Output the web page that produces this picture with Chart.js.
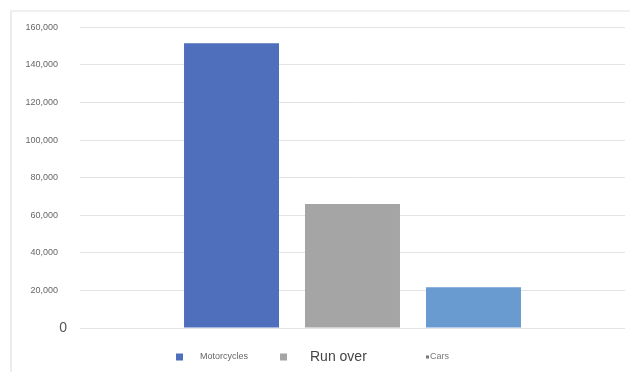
<!DOCTYPE html>
<html>
<head>
<meta charset="utf-8">
<script src="https://cdn.jsdelivr.net/npm/chart.js@4"></script>
<style>
  html, body { margin: 0; padding: 0; background: #fff; }
  #wrap { position: relative; width: 630px; height: 372px; }
  #frame { position: absolute; left: 10px; top: 10px; right: 0; bottom: 0;
           border-left: 2px solid #ececec; border-top: 2px solid #f0f0f0; }
  canvas { position: absolute; left: 0; top: 0; }
</style>
</head>
<body>
<div id="wrap">
  <div id="frame"></div>
  <canvas id="grafico" width="630" height="372"></canvas>
</div>
<script>
// Datos del gráfico
const categories = [''];
const seriesNames = ['Motorcycles', 'Run over', 'Cars'];
const seriesValues = [151500, 66000, 21700];
const yTicks = [0, 20000, 40000, 60000, 80000, 100000, 120000, 140000, 160000];

// Estilos
const barColors = ['#4f6fbd', '#a5a5a5', '#699ad0'];
const legendItems = [
    { box: 7, boxColor: '#4f6fbd', font: 9, color: '#666', x: 176, textX: 200 },
    { box: 7, boxColor: '#a5a5a5', font: 14, color: '#444', x: 280, textX: 310 },
    { box: 3, boxColor: '#777', font: 9, color: '#777', x: 426, textX: 430 }
];
const fontFamily = '"Liberation Sans", Arial, sans-serif';

// Leyenda dibujada a mano (tamaños de letra distintos) y la etiqueta "0" más grande
const extras = {
    id: 'extras',
    afterDraw(chart) {
        const c = chart.ctx;
        const y = 357;
        c.save();
        legendItems.forEach((it, i) => {
            c.fillStyle = it.boxColor;
            c.fillRect(it.x, y - it.box / 2, it.box, it.box);
            c.fillStyle = it.color;
            c.font = it.font + 'px ' + fontFamily;
            c.textBaseline = 'middle';
            c.textAlign = 'left';
            c.fillText(seriesNames[i], it.textX, y);
        });
        // etiqueta del cero
        const ys = chart.scales.y;
        c.fillStyle = '#555';
        c.font = '14px ' + fontFamily;
        c.textAlign = 'right';
        c.fillText('0', chart.chartArea.left - 13, ys.getPixelForValue(0));
        c.restore();
    }
};

const ctx = document.getElementById('grafico').getContext('2d');
new Chart(ctx, {
    type: 'bar',
    data: {
        labels: categories,
        datasets: seriesNames.map((name, i) => ({
            label: name,
            data: [seriesValues[i]],
            backgroundColor: barColors[i],
            borderWidth: 0
        }))
    },
    options: {
        responsive: false,
        animation: false,
        categoryPercentage: 0.666,
        barPercentage: 0.785,
        layout: { padding: { top: 27, right: 5, bottom: 44, left: 0 } },
        plugins: {
            legend: { display: false },
            tooltip: { enabled: false }
        },
        scales: {
            x: { display: false },
            y: {
                min: 0,
                max: 160000,
                afterBuildTicks(scale) {
                    scale.ticks = yTicks.map(v => ({ value: v }));
                },
                afterFit(scale) { scale.width = 80; },
                border: { display: false },
                grid: { color: '#e3e3e3', lineWidth: 1, drawTicks: false },
                ticks: {
                    padding: 22,
                    color: '#666',
                    font: { family: fontFamily, size: 9 },
                    callback: (v) => v === 0 ? '' : Number(v).toLocaleString('en-US')
                }
            }
        }
    },
    plugins: [extras]
});
</script>
</body>
</html>
